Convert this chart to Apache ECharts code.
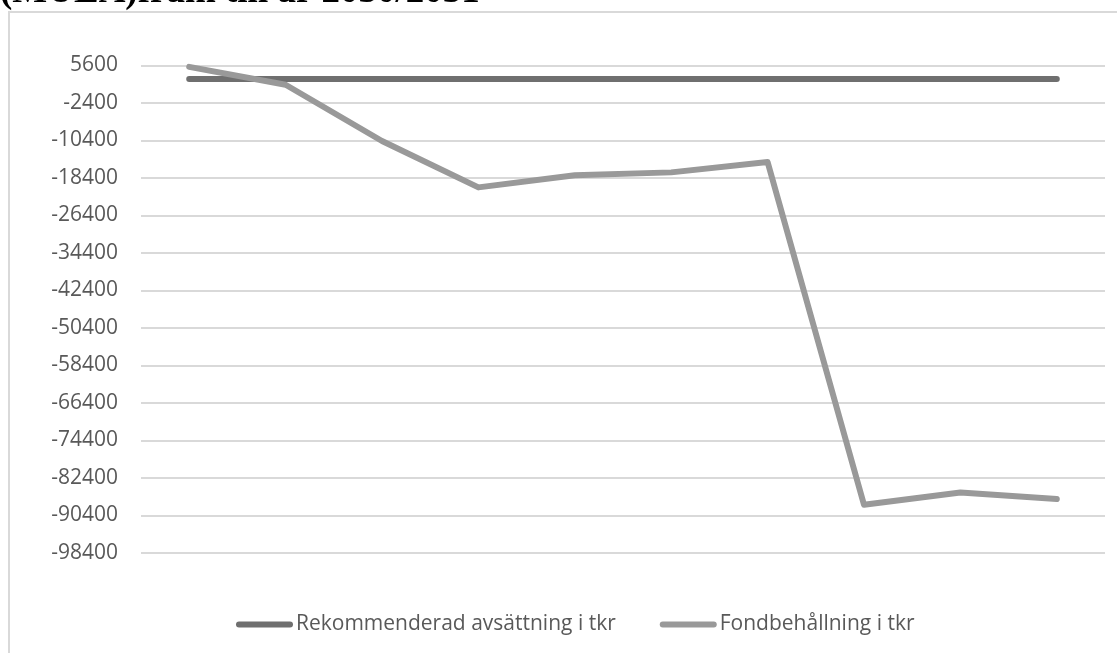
<!DOCTYPE html>
<html>
<head>
<meta charset="utf-8">
<script src="https://cdn.jsdelivr.net/npm/echarts@6/dist/echarts.min.js"></script>
<style>
html,body{margin:0;padding:0;background:#fff;}
#chart{width:1117px;height:653px;}
</style>
</head>
<body>
<div id="chart"></div>
<script>
const titleText = '(MULA)fram till år 2030/2031';
const categories = ['2021/2022','2022/2023','2023/2024','2024/2025','2025/2026','2026/2027','2027/2028','2028/2029','2029/2030','2030/2031'];
const seriesNames = ['Rekommenderad avsättning i tkr', 'Fondbehållning i tkr'];
const rekommenderad = [2700, 2700, 2700, 2700, 2700, 2700, 2700, 2700, 2700, 2700];
const fondbehallning = [5300, 1500, -10500, -20400, -17800, -17200, -15000, -88100, -85500, -86900];
const yMin = -98400;
const yMax = 5600;
const yStep = 8000;

const chart = echarts.init(document.getElementById('chart'), null, {renderer: 'canvas'});
const font = '"Open Sans", "Noto Sans", sans-serif';
const legendIcon = 'path://M3,0 L54,0 A3,3 0 0 1 54,6 L3,6 A3,3 0 0 1 3,0 Z';
chart.setOption({
  backgroundColor: '#ffffff',
  animation: false,
  graphic: [
    {
      type: 'polyline',
      shape: {points: [[9, 653], [9, 12], [1117, 12]]},
      style: {stroke: '#d9d9d9', lineWidth: 2, fill: null}
    },
    {
      type: 'text',
      left: 0,
      top: -26,
      style: {
        text: titleText,
        font: 'bold 37px "Liberation Serif", "DejaVu Serif", serif',
        fill: '#000000'
      }
    }
  ],
  grid: {left: 141, right: 12, top: 65.5, bottom: 100, containLabel: false},
  legend: {
    left: 231,
    top: 609,
    itemWidth: 57,
    itemHeight: 6,
    itemGap: 44,
    textStyle: {fontSize: 21, color: '#595959', fontFamily: font, padding: [0, 0, 0, -2]},
    data: [
      {name: seriesNames[0], icon: legendIcon},
      {name: seriesNames[1], icon: legendIcon}
    ]
  },
  xAxis: {
    type: 'category',
    data: categories,
    boundaryGap: true,
    axisLine: {show: false},
    axisTick: {show: false},
    axisLabel: {show: false},
    splitLine: {show: false}
  },
  yAxis: {
    type: 'value',
    min: yMin,
    max: yMax,
    interval: yStep,
    axisLine: {show: false},
    axisTick: {show: false},
    axisLabel: {fontSize: 21, color: '#595959', fontFamily: font, margin: 23, formatter: function (v) { return String(Math.round(v)); }},
    splitLine: {lineStyle: {color: '#d9d9d9', width: 2}}
  },
  series: [
    {
      name: seriesNames[0],
      type: 'line',
      data: rekommenderad,
      showSymbol: false,
      symbol: 'none',
      color: '#6f6f6f',
      itemStyle: {color: '#6f6f6f'},
      lineStyle: {color: '#6f6f6f', width: 6, cap: 'round', join: 'round'}
    },
    {
      name: seriesNames[1],
      type: 'line',
      data: fondbehallning,
      showSymbol: false,
      symbol: 'none',
      color: '#999999',
      itemStyle: {color: '#999999'},
      lineStyle: {color: '#999999', width: 6, cap: 'round', join: 'round'}
    }
  ]
});
</script>
</body>
</html>
